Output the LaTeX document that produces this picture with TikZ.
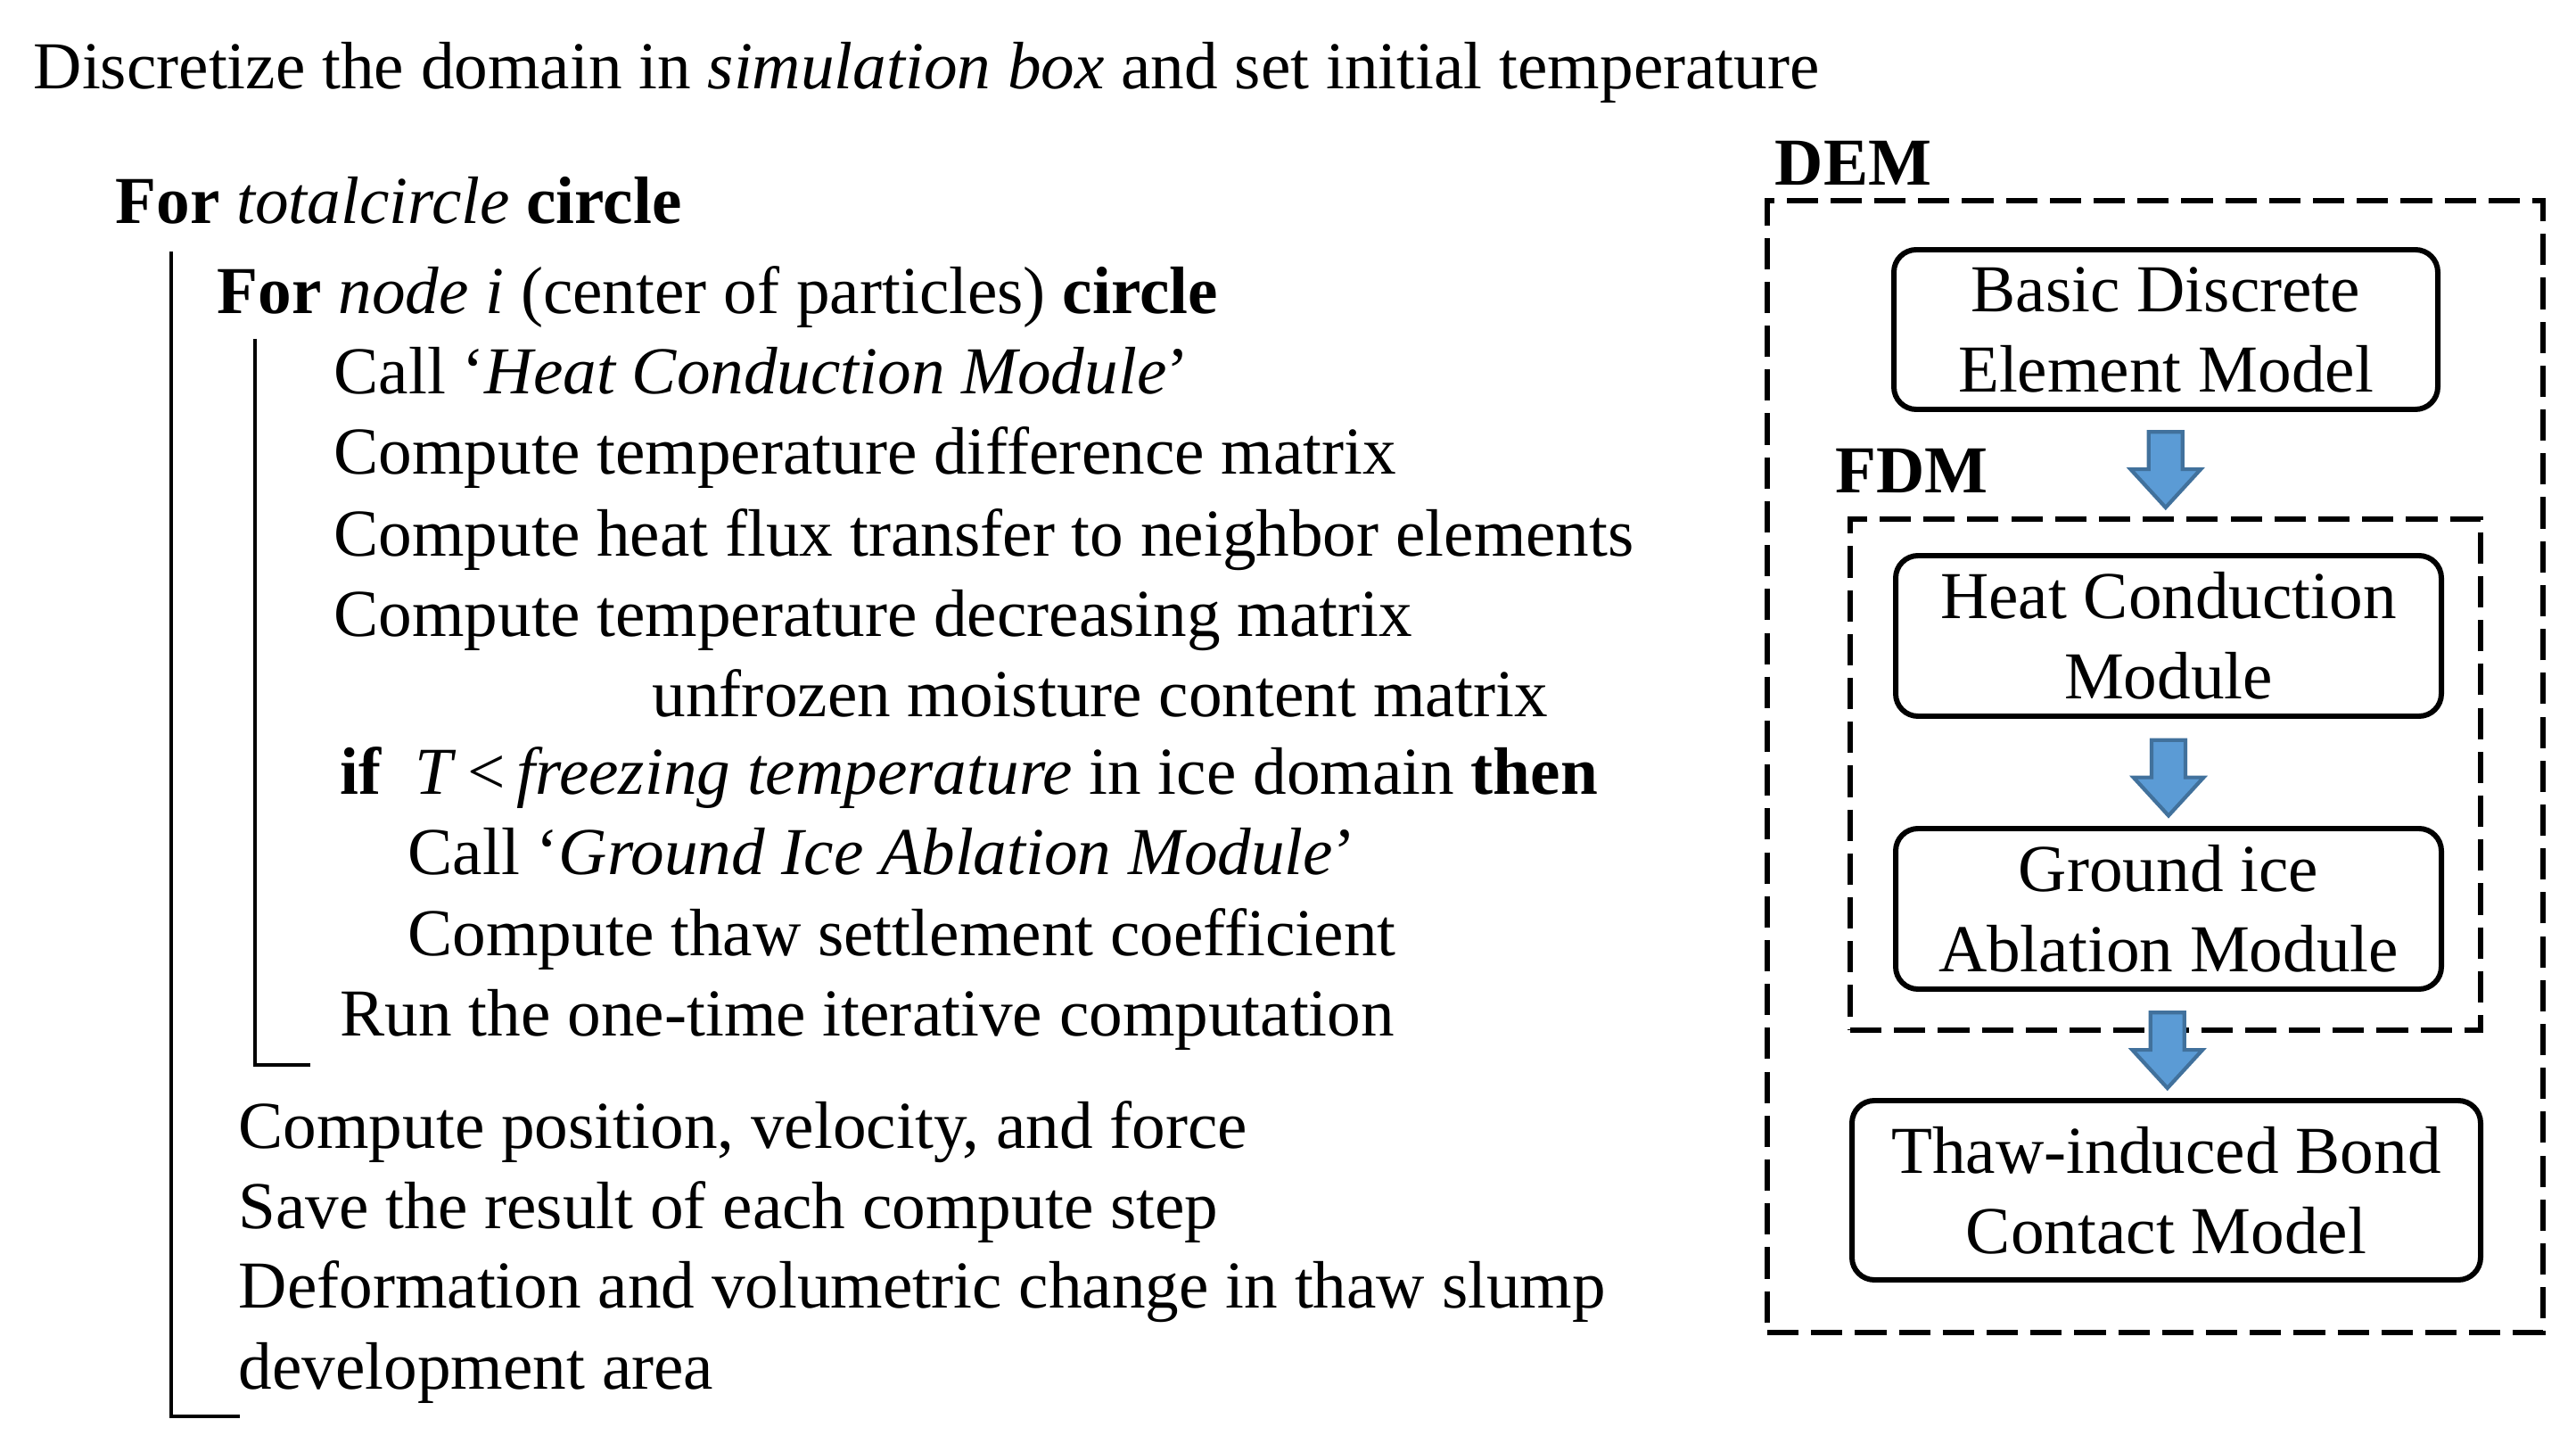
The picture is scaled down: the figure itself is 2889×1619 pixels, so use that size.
\documentclass[tikz,border=0pt]{standalone}
\usepackage{fontspec}
\setmainfont{Liberation Serif}
\usepackage{xcolor}
\usepackage{tikz}
\usetikzlibrary{calc}
\definecolor{arrowfill}{HTML}{5B9BD5}
\definecolor{arrowedge}{HTML}{41719C}
\newcommand{\blkarrow}[2]{\draw[blk] ($(#1.south)!0.5!(#2.north)$) ++(0,-13.8pt) -- ++(-11.2pt,12.2pt) -- ++(5.8pt,0) -- ++(0,11.9pt) -- ++(10.8pt,0) -- ++(0,-11.9pt) -- ++(5.8pt,0) -- cycle;}

\begin{document}
\begin{tikzpicture}[x=0.1mm, y=-0.1mm, font=\fontsize{21.4}{25.6}\selectfont,
    txt/.style = {anchor=base west, inner sep=0pt},
    bracket/.style = {line width=1.1pt},
    box/.style = {draw, line width=1.7pt, rounded corners=2.5mm, align=center, inner sep=0pt},
    frame/.style = {draw, line width=1.7pt, dash pattern=on 10pt off 4pt, inner sep=0pt},
    blk/.style = {draw=arrowedge, fill=arrowfill, line width=1.2pt}]
    \useasboundingbox (0,0) rectangle (2889,1619);
    % pseudo code
    \node[txt] (init) at (37,100) {Discretize the domain in \textit{simulation box} and set initial temperature};
    \node[txt] (forall) at (129,251) {\textbf{For} \textit{totalcircle} \textbf{circle}};
    \node[txt] (fornode) at (243,352) {\textbf{For} \textit{node i} (center of particles) \textbf{circle}};
    \node[txt] (callhc) at (374,442) {Call ‘\textit{Heat Conduction Module}’};
    \node[txt] (tdiff) at (374,532) {Compute temperature difference matrix};
    \node[txt] (flux) at (374,624) {Compute heat flux transfer to neighbor elements};
    \node[txt] (tdec) at (374,714) {Compute temperature decreasing matrix};
    \node[txt] (unfrozen) at (731,804) {unfrozen moisture content matrix};
    \node[txt] (iftest) at (381,891) {\textbf{if}\ \ \textit{T}\,<\,\textit{freezing temperature} in ice domain \textbf{then}};
    \node[txt] (callgi) at (457,981) {Call ‘\textit{Ground Ice Ablation Module}’};
    \node[txt] (thaw) at (457,1072) {Compute thaw settlement coefficient};
    \node[txt] (runit) at (381,1162) {Run the one-time iterative computation};
    \node[txt] (posvel) at (267,1287) {Compute position, velocity, and force};
    \node[txt] (save) at (267,1377) {Save the result of each compute step};
    \node[txt] (deform) at (267,1467) {Deformation and volumetric change in thaw slump};
    \node[txt] (devarea) at (267,1557) {development area};
    \draw[bracket] ($(forall.base west)+(63,31)$) |- ($(devarea.base west)+(2,31)$);
    \draw[bracket] ($(fornode.base west)+(43,28)$) |- ($(runit.base west)+(-33,32)$);
    % model chart
    \node[txt] (demlbl) at (1990,208) {\textbf{DEM}};
    \node[txt] (fdmlbl) at (2058,553) {\textbf{FDM}};
    \node[frame, minimum width=8.7cm, minimum height=12.69cm] (dem) at (2417,859.5) {};
    \node[frame, minimum width=7.07cm, minimum height=5.73cm] (fdm) at (2428.5,868.5) {};
    \node[box, minimum width=6.1cm, minimum height=1.79cm] (bdem) at (2429,369.5) {Basic Discrete\\Element Model};
    \node[box, minimum width=6.12cm, minimum height=1.8cm] (hc) at (2432,713) {Heat Conduction\\Module};
    \node[box, minimum width=6.12cm, minimum height=1.8cm] (gi) at (2432,1019) {Ground ice\\Ablation Module};
    \node[box, minimum width=7.05cm, minimum height=2.01cm] (tbc) at (2429.5,1334.5) {Thaw-induced Bond\\Contact Model};
    \blkarrow{bdem}{fdm}
    \blkarrow{hc}{gi}
    \blkarrow{gi}{tbc}
\end{tikzpicture}
\end{document}
